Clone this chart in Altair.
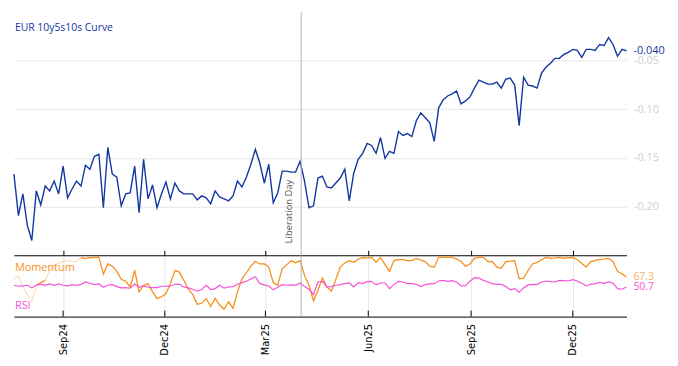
import altair as alt
import pandas as pd

# ---------------- data ----------------
start_date = "2024-07-19"
step = "4D"

curve = [
    -0.1667, -0.2093, -0.1870, -0.2195, -0.2348, -0.1839, -0.1982, -0.1789, -0.1839, -0.1738,
    -0.1870, -0.1585, -0.1911, -0.1819, -0.1738, -0.1789, -0.1575, -0.1616, -0.1484, -0.1463,
    -0.2012, -0.1392, -0.1667, -0.1697, -0.1992, -0.1870, -0.1860, -0.1585, -0.2063, -0.1514,
    -0.1921, -0.1778, -0.2012, -0.1870, -0.1748, -0.1921, -0.1758, -0.1839, -0.1870, -0.1870,
    -0.1870, -0.1931, -0.1890, -0.1911, -0.1972, -0.1839, -0.1900, -0.1921, -0.1941, -0.1890,
    -0.1738, -0.1799, -0.1697, -0.1565, -0.1413, -0.1555, -0.1758, -0.1565, -0.1961, -0.1860,
    -0.1636, -0.1636, -0.1646, -0.1646, -0.1535, -0.1738, -0.2012, -0.1992, -0.1707, -0.1687,
    -0.1799, -0.1809, -0.1758, -0.1707, -0.1616, -0.1941, -0.1657, -0.1514, -0.1453, -0.1352,
    -0.1372, -0.1453, -0.1291, -0.1504, -0.1433, -0.1453, -0.1230, -0.1270, -0.1250, -0.1280,
    -0.1118, -0.1037, -0.1087, -0.1138, -0.1331, -0.0986, -0.0904, -0.0864, -0.0843, -0.0813,
    -0.0945, -0.0915, -0.0874, -0.0783, -0.0701, -0.0722, -0.0742, -0.0742, -0.0722, -0.0783,
    -0.0691, -0.0681, -0.0752, -0.1169, -0.0671, -0.0752, -0.0762, -0.0783, -0.0630, -0.0569,
    -0.0528, -0.0478, -0.0478, -0.0437, -0.0417, -0.0386, -0.0396, -0.0467, -0.0386, -0.0386,
    -0.0396, -0.0335, -0.0346, -0.0264, -0.0335, -0.0457, -0.0386, -0.0400,
]

momentum = [
    64.5, 68.9, 50.9, 38.3, 26.3, 53.6, 58.0, 61.8, 78.2, 86.4,
    90.2, 93.0, 94.6, 93.5, 93.0, 99.5, 97.9, 99.5, 100, 100,
    72.0, 89.1, 85.3, 76.6, 63.4, 60.2, 50.9, 78.2, 42.7, 53.6,
    56.3, 42.7, 31.7, 34.5, 39.9, 56.3, 78.2, 75.5, 61.8, 47.0,
    38.3, 21.9, 23.6, 31.7, 18.1, 31.7, 20.8, 13.7, 26.3, 15.4,
    42.7, 64.5, 74.4, 85.3, 93.0, 89.1, 89.1, 84.2, 58.0, 53.6,
    80.9, 87.5, 94.6, 90.8, 94.6, 70.0, 53.6, 27.4, 45.4, 65.6,
    50.9, 43.8, 63.4, 83.7, 90.8, 94.6, 91.9, 97.3, 99.5, 99.0,
    100, 91.9, 100, 88.0, 76.6, 94.6, 96.2, 96.2, 94.6, 94.6,
    98.4, 95.7, 93.0, 85.3, 83.7, 100, 100, 100, 100, 97.3,
    93.0, 85.3, 89.1, 98.4, 100, 100, 93.0, 93.0, 83.7, 82.0,
    93.0, 93.5, 94.6, 64.5, 65.6, 78.2, 89.1, 91.9, 96.2, 100,
    98.4, 99.0, 100, 98.4, 99.5, 100, 96.2, 90.2, 83.7, 93.0,
    94.6, 96.8, 97.3, 98.4, 93.0, 76.6, 72.7, 67.3,
]

rsi = [
    53.6, 52.0, 52.5, 53.6, 49.2, 53.6, 55.2, 53.6, 55.8, 53.6,
    55.8, 53.6, 52.5, 54.7, 53.6, 55.2, 59.1, 56.9, 54.7, 55.8,
    50.3, 53.6, 54.7, 51.4, 49.2, 49.8, 48.7, 55.8, 50.3, 53.1,
    50.3, 49.8, 49.8, 52.0, 52.0, 52.5, 55.2, 55.2, 50.9, 49.2,
    47.0, 43.8, 46.5, 53.6, 46.5, 48.1, 53.6, 48.7, 50.9, 51.4,
    55.2, 58.0, 60.2, 64.0, 67.8, 56.3, 54.2, 52.5, 46.0, 50.3,
    54.7, 53.6, 54.2, 53.6, 57.4, 51.4, 47.0, 38.3, 59.1, 60.2,
    50.9, 51.4, 53.6, 54.7, 56.3, 57.4, 50.9, 58.0, 56.3, 59.6,
    60.2, 54.2, 57.4, 57.4, 48.1, 54.7, 60.2, 59.1, 56.3, 56.3,
    55.2, 51.4, 54.7, 55.8, 56.3, 60.7, 61.8, 60.2, 61.3, 59.1,
    52.5, 53.1, 60.2, 66.2, 65.6, 61.8, 59.1, 56.3, 55.2, 55.2,
    51.4, 46.0, 48.1, 42.1, 49.2, 54.2, 55.2, 54.7, 59.1, 60.7,
    59.6, 59.1, 61.8, 61.3, 60.7, 62.9, 60.7, 56.9, 52.5, 55.2,
    56.3, 58.5, 56.9, 59.1, 56.9, 48.1, 47.0, 50.7,
]

quarter_ticks = ["2024-09-01", "2024-12-01", "2025-03-01", "2025-06-01", "2025-09-01", "2025-12-01"]
event_dates = ["2025-04-02"]
event_labels = ["Liberation Day"]
chart_title = "EUR 10y5s10s Curve"
domain_start = "2024-07-19"
domain_end = "2026-01-18"
curve_ticks = [-0.05, -0.10, -0.15, -0.20]
ind_grid = [30, 70]

# ---------------- styling ----------------
BLUE = "#1238a0"
ORANGE = "#f7901e"
PINK = "#f652d8"
GRID = "#e6e6e6"
LGRAY = "#d0d0d0"
W, H1, H2 = 619, 246, 62
FONT = "Open Sans"

dates = pd.date_range(start_date, periods=len(curve), freq=step)
df = pd.DataFrame({"date": dates, "curve": curve, "momentum": momentum, "rsi": rsi,
                   "i": list(range(len(curve)))})
ev = pd.DataFrame({"date": pd.to_datetime(event_dates), "label": event_labels})
qdf = pd.DataFrame({"d": pd.to_datetime(quarter_ticks)})


def dt(s):
    t = pd.Timestamp(s)
    return alt.DateTime(year=t.year, month=t.month, date=t.day)


qvals = [dt(s) for s in quarter_ticks]
xscale = alt.Scale(domain=[dt(domain_start), dt(domain_end)], nice=False)
minus_fix = "replace(format(datum.value, '.2f'), '\u2212', '-')"

# ---------------- main panel ----------------
main_line = alt.Chart(df).mark_line(color=BLUE, strokeWidth=1.4).encode(
    x=alt.X("date:T", scale=xscale,
            axis=alt.Axis(orient="top", title=None, labels=False, ticks=False,
                          domainColor="black", domainWidth=1, grid=True, gridColor=GRID,
                          values=qvals)),
    y=alt.Y("curve:Q", scale=alt.Scale(domain=[-0.25, 0], nice=False, zero=False),
            axis=alt.Axis(orient="right", title=None, values=curve_ticks, labelExpr=minus_fix,
                          labelColor=LGRAY, ticks=False, domain=False, grid=True,
                          gridColor=GRID, labelPadding=7, labelFontSize=11, labelFont=FONT)),
)

ev_rule = alt.Chart(ev).mark_rule(color="#b3b3b3", strokeWidth=1).encode(
    x=alt.X("date:T", scale=xscale, axis=None))

ev_text = alt.Chart(ev).mark_text(angle=270, align="left", baseline="bottom", dy=-7,
                                   fontSize=9.5, color="#555555", font=FONT).encode(
    x=alt.X("date:T", scale=xscale, axis=None), y=alt.value(H1 - 12), text="label:N")

title_df = pd.DataFrame({"t": [chart_title]})
title_txt = alt.Chart(title_df).mark_text(align="left", baseline="middle", fontSize=10.5,
                                          color=BLUE, font=FONT).encode(
    x=alt.value(1), y=alt.value(16), text="t:N")

last = df.iloc[[-1]].copy()
last["lbl"] = f"{curve[-1]:.3f}"
end_curve = alt.Chart(last).mark_text(align="left", baseline="middle", dx=7, fontSize=11,
                                      color=BLUE, font=FONT).encode(
    x=alt.X("date:T", scale=xscale, axis=None), y="curve:Q", text="lbl:N")

main = alt.layer(main_line, ev_rule, ev_text, title_txt, end_curve).properties(width=W, height=H1)

# ---------------- indicator panel ----------------
yind = alt.Scale(domain=[1.5, 103.5], nice=False, zero=False)

mom_faded = alt.Chart(df).mark_line(color=ORANGE, strokeWidth=1.2, opacity=0.3).encode(
    x=alt.X("date:T", scale=xscale,
            axis=alt.Axis(orient="top", title=None, labels=False, ticks=True, tickColor="black",
                          tickSize=5, domainColor="black", domainWidth=1, grid=True,
                          gridColor=GRID, values=qvals)),
    y=alt.Y("momentum:Q", scale=yind,
            axis=alt.Axis(orient="right", title=None, values=ind_grid,
                          labelExpr="datum.value == 30 ? '30' : ''", labelColor=LGRAY,
                          ticks=False, domain=False, grid=True, gridColor=GRID,
                          labelPadding=7, labelFontSize=10.5, labelFont=FONT)),
)

mom_solid = alt.Chart(df).transform_filter(
    "datum.i >= 15 || (datum.i >= 5 && datum.i <= 7)"
).transform_calculate(seg="datum.i >= 15 ? 'b' : 'a'").mark_line(
    color=ORANGE, strokeWidth=1.2).encode(
    x=alt.X("date:T", scale=xscale, axis=None),
    y=alt.Y("momentum:Q", scale=yind, axis=None),
    detail="seg:N",
)

rsi_line = alt.Chart(df).mark_line(color=PINK, strokeWidth=1.2).encode(
    x=alt.X("date:T", scale=xscale,
            axis=alt.Axis(orient="bottom", title=None, format="%b%y", labelAngle=270,
                          labelColor="black", labelFont="DejaVu Sans", labelFontSize=10,
                          ticks=False, domainColor="black", domainWidth=1, grid=False,
                          labelPadding=7, values=qvals)),
    y=alt.Y("rsi:Q", scale=yind, axis=None),
)

bticks = alt.Chart(qdf).mark_rule(color="black", strokeWidth=1).encode(
    x=alt.X("d:T", scale=xscale, axis=None), y=alt.value(H2 - 6), y2=alt.value(H2))

ev_rule2 = alt.Chart(ev).mark_rule(color="#b3b3b3", strokeWidth=1).encode(
    x=alt.X("date:T", scale=xscale, axis=None))

lab_df = pd.DataFrame({"t": ["Momentum", "RSI"], "c": [ORANGE, PINK], "yy": [13, 51]})
ind_labels = alt.Chart(lab_df).mark_text(align="left", baseline="middle", fontSize=11,
                                         font=FONT).encode(
    x=alt.value(1), y=alt.Y("yy:Q", scale=None), text="t:N",
    color=alt.Color("c:N", scale=None))

end_mom = alt.Chart(last.assign(lbl=f"{momentum[-1]:.1f}")).mark_text(
    align="left", baseline="middle", dx=7, fontSize=10.5, color=ORANGE, opacity=0.7,
    font=FONT).encode(x=alt.X("date:T", scale=xscale, axis=None),
                      y=alt.Y("momentum:Q", scale=yind, axis=None), text="lbl:N")
end_rsi = alt.Chart(last.assign(lbl=f"{rsi[-1]:.1f}")).mark_text(
    align="left", baseline="middle", dx=7, fontSize=10.5, color=PINK,
    font=FONT).encode(x=alt.X("date:T", scale=xscale, axis=None),
                      y=alt.Y("rsi:Q", scale=yind, axis=None), text="lbl:N")

lower = alt.layer(mom_faded, mom_solid, rsi_line, bticks, ev_rule2, ind_labels,
                  end_mom, end_rsi).resolve_axis(x="independent").properties(width=W, height=H2)

chart = alt.vconcat(main, lower, spacing=0, bounds="flush").properties(
    padding={"left": 3, "top": 1, "right": 5, "bottom": 5}
).configure_view(stroke=None)

chart.save("out.html", embed_options={"renderer": "svg", "actions": False})
